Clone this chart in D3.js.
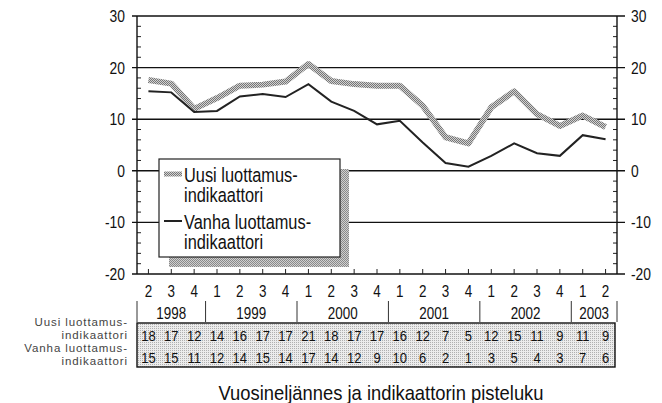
<!DOCTYPE html>
<html>
<head>
<meta charset="utf-8">
<script src="https://cdn.jsdelivr.net/npm/d3@7"></script>
<style>
  body { margin: 0; background: #fff; }
  text { font-family: 'Liberation Sans', Arial, sans-serif; fill: #111; }
</style>
</head>
<body>
<div id="vis"></div>
<script>
// quarters 1998Q2 .. 2003Q2
const periods = ['1998-2','1998-3','1998-4','1999-1','1999-2','1999-3','1999-4',
  '2000-1','2000-2','2000-3','2000-4','2001-1','2001-2','2001-3','2001-4',
  '2002-1','2002-2','2002-3','2002-4','2003-1','2003-2'];
const years = ['1998','1999','2000','2001','2002','2003'];
const yTicks = [-20, -10, 0, 10, 20, 30];

// line values
const uusi = [17.6, 16.9, 12.0, 14.1, 16.5, 16.7, 17.3, 20.7, 17.4, 16.8, 16.5,
  16.5, 12.6, 6.5, 5.3, 12.3, 15.4, 11.0, 8.7, 10.7, 8.5];
const vanha = [15.4, 15.2, 11.4, 11.6, 14.4, 14.9, 14.3, 16.8, 13.4, 11.6, 9.0,
  9.7, 5.5, 1.5, 0.8, 2.9, 5.3, 3.4, 2.9, 6.9, 6.1];

// table rows (printed points)
const uusiTable = [18, 17, 12, 14, 16, 17, 17, 21, 18, 17, 17, 16, 12, 7, 5, 12, 15, 11, 9, 11, 9];
const vanhaTable = [15, 15, 11, 12, 14, 15, 14, 17, 14, 12, 9, 10, 6, 2, 1, 3, 5, 4, 3, 7, 6];

const legendLabels = [['Uusi luottamus-', 'indikaattori'], ['Vanha luottamus-', 'indikaattori']];
const rowLabels = ['Uusi luottamus-', 'indikaattori', 'Vanha luottamus-', 'indikaattori'];

const width = 662, height = 403;
const plotL = 137, plotR = 617, plotT = 16, plotB = 274;
const SX = 0.84; // squeeze text to look like a condensed face

const svg = d3.select('#vis').append('svg')
  .attr('width', width)
  .attr('height', height);

// condensed text: put it with a transform and squeeze horizontally
function place(sel, fx, fy, s) {
  s = s || SX;
  sel.attr('transform', (d, i) => `translate(${fx(d, i)},${fy(d, i)}) scale(${s},1)`);
}

const defs = svg.append('defs');
function dotPattern(id, bg, fg, n) {
  const p = defs.append('pattern').attr('id', id)
    .attr('width', 2).attr('height', 2)
    .attr('patternUnits', 'userSpaceOnUse');
  p.append('rect').attr('width', 2).attr('height', 2).attr('fill', bg);
  p.append('rect').attr('width', 1).attr('height', 1).attr('fill', fg);
  if (n > 1) p.append('rect').attr('x', 1).attr('y', 1).attr('width', 1).attr('height', 1).attr('fill', fg);
}
dotPattern('lineDots', '#d2d2d2', '#767676', 2);
dotPattern('shadowDots', '#d0d0d0', '#8a8a8a', 2);
dotPattern('tableDots', '#ececec', '#b0b0b0', 1);

const x = d3.scaleBand().domain(periods).range([plotL, plotR]);
const y = d3.scaleLinear().domain([-20, 30]).range([plotB, plotT]);
const cx = d => x(d) + x.bandwidth() / 2;

// grid / frame lines
svg.append('g').selectAll('line')
  .data(yTicks)
  .join('line')
  .attr('x1', plotL - 5).attr('x2', plotR + 8)
  .attr('y1', d => y(d)).attr('y2', d => y(d))
  .style('stroke', '#111').style('stroke-width', 1.4);

// minor ticks every 2
const minor = d3.range(-20, 31, 2).filter(v => v % 10 !== 0);
svg.append('g').selectAll('line')
  .data(minor)
  .join('line')
  .attr('x1', plotL).attr('x2', plotL + 4)
  .attr('y1', d => y(d)).attr('y2', d => y(d))
  .style('stroke', '#222').style('stroke-width', 1);
svg.append('g').selectAll('line')
  .data(minor)
  .join('line')
  .attr('x1', plotR - 4).attr('x2', plotR)
  .attr('y1', d => y(d)).attr('y2', d => y(d))
  .style('stroke', '#222').style('stroke-width', 1);

// vertical axes
[plotL, plotR].forEach(xx => {
  svg.append('line')
    .attr('x1', xx).attr('x2', xx)
    .attr('y1', y(30)).attr('y2', y(-20))
    .style('stroke', '#111').style('stroke-width', 1.4);
});

// bottom ticks at quarter centres
svg.append('g').selectAll('line')
  .data(periods)
  .join('line')
  .attr('x1', d => cx(d)).attr('x2', d => cx(d))
  .attr('y1', plotB).attr('y2', plotB - 5)
  .style('stroke', '#222').style('stroke-width', 1);

// y labels
svg.append('g').selectAll('text')
  .data(yTicks)
  .join('text')
  .attr('dy', '0.36em')
  .attr('text-anchor', 'end')
  .style('font-size', '16.5px')
  .text(d => d)
  .call(place, () => 125, d => y(d));
svg.append('g').selectAll('text')
  .data(yTicks)
  .join('text')
  .attr('dy', '0.36em')
  .style('font-size', '16.5px')
  .text(d => d)
  .call(place, () => 631, d => y(d));

// lines
const line = d3.line()
  .x((d, i) => cx(periods[i]))
  .y(d => y(d));

svg.append('path')
  .datum(uusi)
  .attr('d', line)
  .style('fill', 'none')
  .style('stroke', 'url(#lineDots)')
  .style('stroke-width', 6)
  .style('stroke-linejoin', 'round');

svg.append('path')
  .datum(vanha)
  .attr('d', line)
  .style('fill', 'none')
  .style('stroke', '#222')
  .style('stroke-width', 2);

// legend
const lg = svg.append('g');
lg.append('rect')
  .attr('x', 169).attr('y', 169).attr('width', 180).attr('height', 98)
  .style('fill', 'url(#shadowDots)');
lg.append('rect')
  .attr('x', 159).attr('y', 159).attr('width', 181).attr('height', 98)
  .style('fill', '#fff').style('stroke', '#222').style('stroke-width', 1.2);
lg.append('line')
  .attr('x1', 164).attr('x2', 182).attr('y1', 174).attr('y2', 174)
  .style('stroke', 'url(#lineDots)').style('stroke-width', 5);
lg.append('line')
  .attr('x1', 164).attr('x2', 182).attr('y1', 221).attr('y2', 221)
  .style('stroke', '#222').style('stroke-width', 2);
const legendRows = [
  { t: legendLabels[0][0], y: 175 }, { t: legendLabels[0][1], y: 195 },
  { t: legendLabels[1][0], y: 222 }, { t: legendLabels[1][1], y: 242 }
];
lg.selectAll('text.lt')
  .data(legendRows)
  .join('text')
  .attr('class', 'lt')
  .attr('dy', '0.36em')
  .style('font-size', '19.5px')
  .text(d => d.t)
  .call(place, () => 184, d => d.y);

// quarter labels
svg.append('g').selectAll('text')
  .data(periods)
  .join('text')
  .attr('dy', '0.36em')
  .attr('text-anchor', 'middle')
  .style('font-size', '16px')
  .text(d => d.split('-')[1])
  .call(place, d => cx(d), () => 291);

// year labels and separators
const yearSpan = years.map(yr => {
  const ps = periods.filter(p => p.startsWith(yr));
  return { yr, x0: x(ps[0]), x1: x(ps[ps.length - 1]) + x.bandwidth() };
});
svg.append('g').selectAll('text')
  .data(yearSpan)
  .join('text')
  .attr('dy', '0.36em')
  .attr('text-anchor', 'middle')
  .style('font-size', '16px')
  .text(d => d.yr)
  .call(place, d => (d.x0 + d.x1) / 2, () => 313);
const seps = [plotL].concat(yearSpan.map(d => d.x1));
svg.append('g').selectAll('line')
  .data(seps)
  .join('line')
  .attr('x1', d => d).attr('x2', d => d)
  .attr('y1', 301).attr('y2', 322)
  .style('stroke', '#333').style('stroke-width', 1);

// table
svg.append('rect')
  .attr('x', plotL).attr('y', 323).attr('width', plotR - plotL - 2).attr('height', 44)
  .style('fill', 'url(#tableDots)').style('stroke', '#111').style('stroke-width', 1.4);
svg.append('g').selectAll('text')
  .data(uusiTable)
  .join('text')
  .attr('dy', '0.36em')
  .attr('text-anchor', 'middle')
  .style('font-size', '15.5px')
  .text(d => d)
  .call(place, (d, i) => cx(periods[i]), () => 335);
svg.append('g').selectAll('text')
  .data(vanhaTable)
  .join('text')
  .attr('dy', '0.36em')
  .attr('text-anchor', 'middle')
  .style('font-size', '15.5px')
  .text(d => d)
  .call(place, (d, i) => cx(periods[i]), () => 357);

// row labels left of the table
const rowY = [326, 339, 352, 365];
svg.append('g').selectAll('text')
  .data(rowLabels)
  .join('text')
  .attr('text-anchor', 'end')
  .style('font-size', '11.5px')
  .style('letter-spacing', '0.9px')
  .style('fill', '#444')
  .text(d => d)
  .call(place, () => 128, (d, i) => rowY[i], 1);

// title
svg.append('text')
  .attr('dy', '0.36em')
  .attr('text-anchor', 'middle')
  .style('font-size', '21px')
  .text('Vuosineljännes ja indikaattorin pisteluku')
  .call(place, () => 381, () => 392, 0.875);
</script>
</body>
</html>
